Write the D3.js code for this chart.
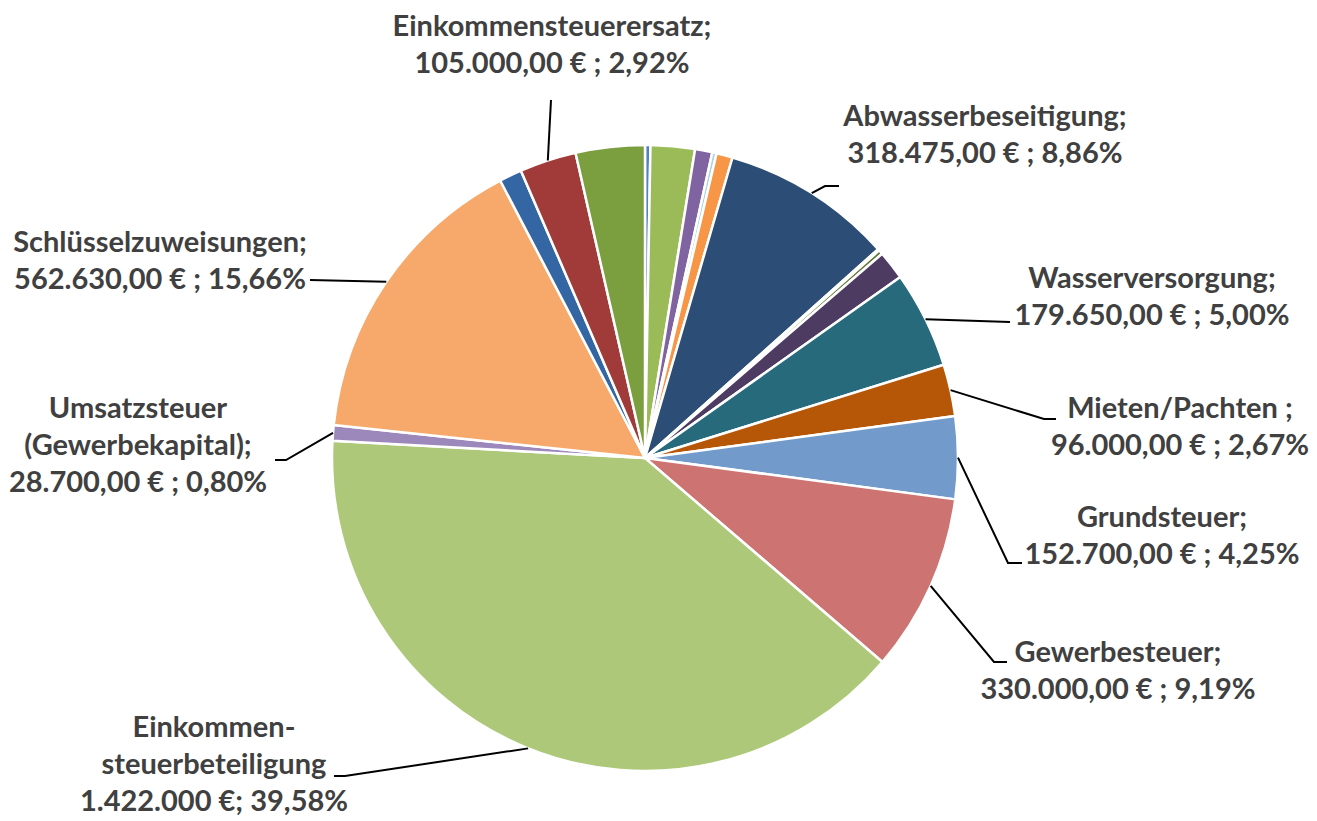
<!DOCTYPE html>
<html>
<head>
<meta charset="utf-8">
<script src="https://cdn.jsdelivr.net/npm/d3@7"></script>
<style>
  body { margin: 0; background: #ffffff; }
  .lbl { font-family: Lato, "Open Sans", sans-serif; font-weight: bold; fill: #404040; }
</style>
</head>
<body>
<div id="chart"></div>
<script>
// slice data, clockwise from 12 o'clock
var categories = [
  "Posten 1", "Posten 2", "Posten 3", "Posten 4", "Posten 5",
  "Abwasserbeseitigung", "Posten 7", "Posten 8", "Posten 9",
  "Wasserversorgung", "Mieten/Pachten", "Grundsteuer", "Gewerbesteuer",
  "Einkommensteuerbeteiligung", "Umsatzsteuer (Gewerbekapital)",
  "Schlüsselzuweisungen", "Posten 17", "Einkommensteuerersatz", "Posten 19"
];
var values = [
  10000, 82000, 32000, 8000, 30000,
  318475, 3000, 8000, 54000,
  179650, 96000, 152700, 330000,
  1422000, 28700,
  562630, 42000, 105000, 128000
];
var colors = [
  "#4f81bd", "#9bbb59", "#8064a2", "#a9d4e3", "#f79646",
  "#2c4d75", "#d8d2bd", "#5f7530", "#4d3b62",
  "#276a7c", "#b65708", "#729aca", "#cd7371",
  "#adc878", "#9d88bb",
  "#f6a96a", "#3466a3", "#a13b3a", "#7b9e3f"
];

// data labels: slice index and text lines
var labelIndex = [17, 5, 9, 10, 11, 12, 13, 14, 15];
var labelText = [
  ["Einkommensteuerersatz;", "105.000,00 € ; 2,92%"],
  ["Abwasserbeseitigung;", "318.475,00 € ; 8,86%"],
  ["Wasserversorgung;", "179.650,00 € ; 5,00%"],
  ["Mieten/Pachten ;", "96.000,00 € ; 2,67%"],
  ["Grundsteuer;", "152.700,00 € ; 4,25%"],
  ["Gewerbesteuer;", "330.000,00 € ; 9,19%"],
  ["Einkommen-", "steuerbeteiligung", "1.422.000 €; 39,58%"],
  ["Umsatzsteuer", "(Gewerbekapital);", "28.700,00 € ; 0,80%"],
  ["Schlüsselzuweisungen;", "562.630,00 € ; 15,66%"]
];

// label layout: text centre x, first baseline y, leader elbow and end
var labelLayout = [
  { x: 552, y: 36, elbow: [551, 100], end: [551, 100] },
  { x: 985, y: 126, elbow: [825, 186], end: [839, 186] },
  { x: 1152, y: 288, elbow: [1010, 322], end: [1010, 322] },
  { x: 1180, y: 418, elbow: [1044, 419], end: [1056, 419] },
  { x: 1162, y: 527, elbow: [1008, 563], end: [1022, 563] },
  { x: 1118, y: 662, elbow: [994, 662], end: [1007, 662] },
  { x: 214, y: 737, elbow: [345, 776], end: [334, 776] },
  { x: 138, y: 418, elbow: [286, 460], end: [275, 460] },
  { x: 160, y: 252, elbow: [310, 280], end: [310, 280] }
];

var svgWidth = 1317;
var svgHeight = 821;
var cx = 645;
var cy = 458;
var radius = 313;
var lineHeight = 37;

var svg = d3.select("#chart")
  .append("svg")
  .attr("width", svgWidth)
  .attr("height", svgHeight);

var pieGroup = svg.append("g")
  .attr("transform", `translate(${cx}, ${cy})`);

var pie = d3.pie()
  .sort(null)
  .value(function (d) { return d; });

var arcs = pie(values);

var arc = d3.arc()
  .innerRadius(0)
  .outerRadius(radius);

// point on the rim at each slice's mid angle
var rimArc = d3.arc()
  .innerRadius(radius)
  .outerRadius(radius);

pieGroup.selectAll("path")
  .data(arcs)
  .enter()
  .append("path")
  .attr("d", arc)
  .attr("fill", function (d, i) { return colors[i]; })
  .attr("stroke", "#ffffff")
  .attr("stroke-width", 2.5)
  .attr("stroke-linejoin", "round");

// leader lines
labelIndex.forEach(function (si, k) {
  var p = rimArc.centroid(arcs[si]);
  var lay = labelLayout[k];
  var pts = [[cx + p[0], cy + p[1]], lay.elbow, lay.end];
  svg.append("path")
    .attr("d", d3.line()(pts))
    .attr("fill", "none")
    .attr("stroke", "#000000")
    .attr("stroke-width", 2);
});

// label text
labelIndex.forEach(function (si, k) {
  var lay = labelLayout[k];
  var t = svg.append("text")
    .attr("class", "lbl")
    .attr("text-anchor", "middle")
    .style("font-size", "29px");
  labelText[k].forEach(function (line, j) {
    t.append("tspan")
      .attr("x", lay.x)
      .attr("y", lay.y + j * lineHeight)
      .text(line);
  });
});
</script>
</body>
</html>
